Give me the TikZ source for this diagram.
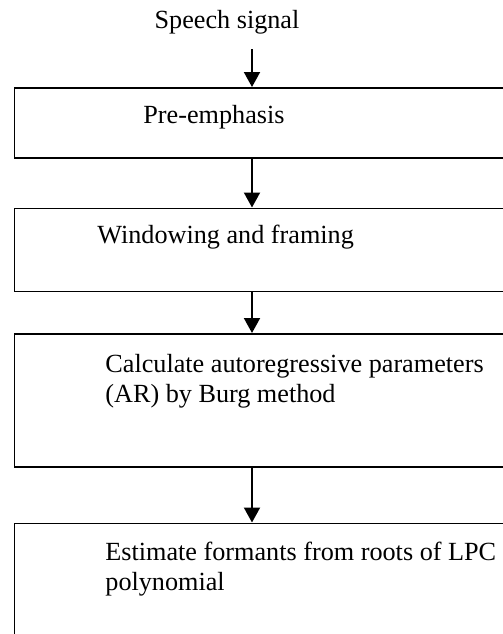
\documentclass[tikz,border=0pt]{standalone}
\usepackage{fontspec}
\setmainfont{Liberation Serif}
\usetikzlibrary{positioning,arrows.meta}

\begin{document}
\begin{tikzpicture}[x=0.5pt, y=-0.5pt, >={Triangle[length=7.5pt,width=8pt]}, every node/.style={font=\fontsize{13.1}{15}\selectfont}, box/.style={draw, line width=0.75pt, rectangle, minimum width=253pt, inner sep=0pt}, txt/.style={align=left, inner sep=0pt, anchor=base west}, flow/.style={->, line width=1pt}]
\useasboundingbox (0,0) rectangle (503,634);
\clip (0,0) rectangle (503,634);
% input
\node[anchor=base, inner sep=0pt] (signal) at (227,28) {Speech signal};
\coordinate (in) at (252,49);
% processing blocks
\node[box, minimum height=35pt, anchor=north west] (pre) at (14,87) {};
\node[box, minimum height=41.5pt, below=24.5pt of pre] (win) {};
\node[box, minimum height=66.5pt, below=20.5pt of win] (burg) {};
\node[box, minimum height=70pt, below=27.5pt of burg] (lpc) {};
% labels (base = last line)
\node[txt] (pretxt) at (143,123) {Pre-emphasis};
\node[txt] (wintxt) at (97,243) {Windowing and framing};
\node[txt] (burgtxt) at (105,402) {Calculate autoregressive parameters\\(AR) by Burg method};
\node[txt] (lpctxt) at (105,590) {Estimate formants from roots of LPC\\polynomial};
% arrows
\draw[flow] (in) -- (in |- pre.north);
\draw[flow] (pre.south -| in) -- (win.north -| in);
\draw[flow] (win.south -| in) -- (burg.north -| in);
\draw[flow] (burg.south -| in) -- (lpc.north -| in);
\end{tikzpicture}
\end{document}
